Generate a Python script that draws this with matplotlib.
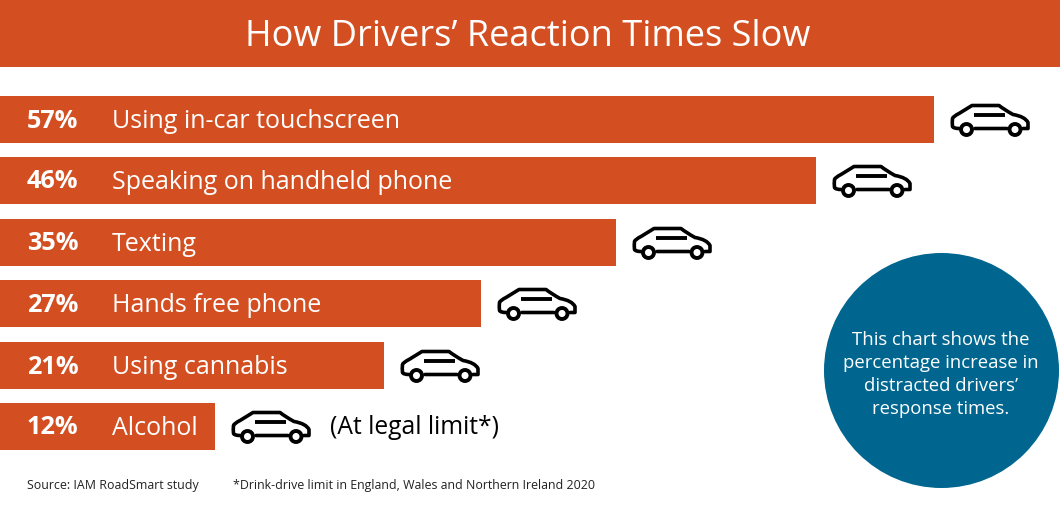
import matplotlib
matplotlib.use('Agg')
import matplotlib.pyplot as plt
from matplotlib.path import Path
from matplotlib.patches import PathPatch, Circle, Rectangle
from matplotlib.transforms import Affine2D

plt.rcParams['font.family'] = ['Open Sans', 'DejaVu Sans']

percents = ['57%', '46%', '35%', '27%', '21%', '12%']
labels = ['Using in-car touchscreen', 'Speaking on handheld phone', 'Texting',
          'Hands free phone', 'Using cannabis', 'Alcohol']
# bars are not to scale in the original, lengths read off in pixels
bar_lengths = [934, 816, 616, 481, 384, 215]
bar_centers = [119.5, 180.5, 242.5, 303.5, 365.5, 426.5]

orange = '#D34F22'
blue = '#00668F'

fig = plt.figure(figsize=(10.6, 5.22), dpi=100)
ax = fig.add_axes([0, 0, 1, 1])
ax.set_xlim(0, 1060)
ax.set_ylim(522, 0)
ax.axis('off')


def draw_car(x, yc):
    # outline, window and wheels of the little car, y measured from roof
    y = yc - 15
    M, L, C = Path.MOVETO, Path.LINETO, Path.CURVE3
    body = Path(
        [(8, 24), (2.5, 24), (1.5, 22), (1, 18), (1.5, 14), (2, 12), (8, 9),
         (21, 1), (29, 1), (42, 1), (48, 1), (53, 5), (62, 10), (74, 12),
         (77, 18), (77, 24), (72, 24), (24, 24), (56, 24)],
        [M, C, C, C, C, C, C, L, C, C, L, C, C, C, C, L, L, M, L])
    body = body.transformed(Affine2D().translate(x, y))
    ax.add_patch(PathPatch(body, fill=False, edgecolor='black', lw=2.6, capstyle='round', joinstyle='round'))
    ax.plot([x + 23, x + 54], [y + 10, y + 10], color='black', lw=2.8, solid_capstyle='butt')
    for wx in [15.5, 64]:
        ax.add_patch(Circle((x + wx, y + 25), 5.5, facecolor='white', edgecolor='black', lw=2.8, zorder=3))


ax.add_patch(Rectangle((0, 0), 1060, 67, facecolor=orange, edgecolor='none'))
ax.text(528, 36.5, 'How Drivers’ Reaction Times Slow', color='white', fontsize=26.05,
        ha='center', va='center')

ax.barh(bar_centers, bar_lengths, height=47, color=orange, left=0)

for i in range(len(percents)):
    yc = bar_centers[i]
    ax.text(27, yc + 1.5, percents[i], color='white', fontsize=18.2, fontweight='bold', ha='left', va='center')
    ax.text(112, yc + 2, labels[i], color='white', fontsize=18, ha='left', va='center')
    draw_car(bar_lengths[i] + 17, yc)

ax.text(330, 428, '(At legal limit*)', color='black', fontsize=17.7, ha='left', va='center')

ax.text(27, 485, 'Source: IAM RoadSmart study', color='#222222', fontsize=8.95, ha='left', va='center')
ax.text(233, 485, '*Drink-drive limit in England, Wales and Northern Ireland 2020', color='#222222',
        fontsize=8.9, ha='left', va='center')

ax.add_patch(Circle((941.5, 370.5), 117.5, facecolor=blue, edgecolor='none'))
ax.text(941, 374.5, 'This chart shows the\npercentage increase in\ndistracted drivers’\nresponse times.',
        color='white', fontsize=13.3, ha='center', va='center', linespacing=1.38)

fig.savefig('out.png', dpi=100)
